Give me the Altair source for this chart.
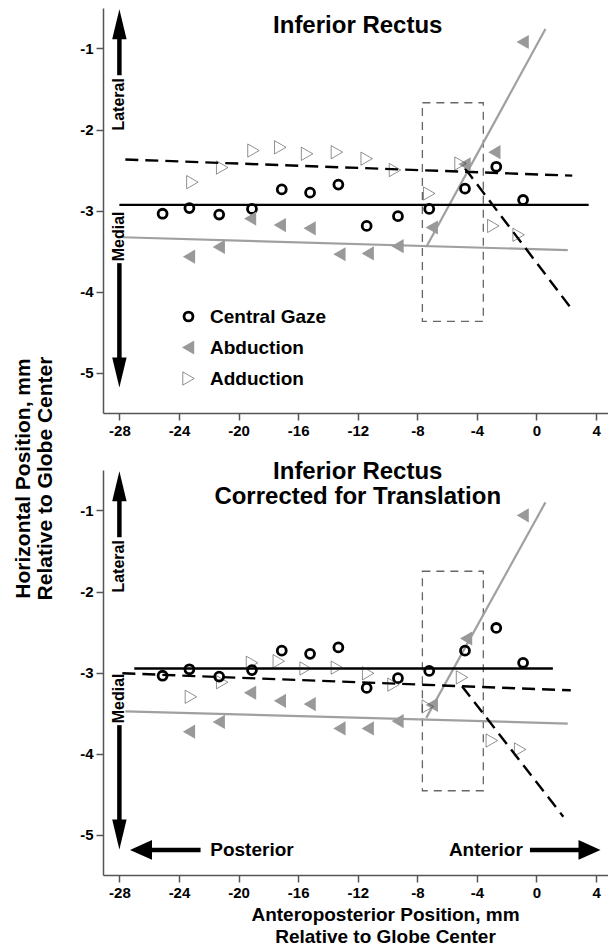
import altair as alt
import pandas as pd

FONT = "Liberation Sans"
GRAY_LINE = "#a0a0a0"
GRAY_PT = "#999999"

# ---------------- axes ----------------
x_ticks = [-28, -24, -20, -16, -12, -8, -4, 0, 4]
y_ticks = [-1, -2, -3, -4, -5]
x_domain = [-29.1, 4.8]
y_domain = [-5.5, -0.5]

series_names = ["Central Gaze", "Abduction", "Adduction"]

# ---------------- data: top panel (Inferior Rectus) ----------------
central_x = [-25.1, -23.3, -21.3, -19.1, -17.1, -15.2, -13.3, -11.4, -9.3, -7.2, -4.8, -2.7, -0.9]
central_y_top = [-3.04, -2.97, -3.05, -2.98, -2.74, -2.78, -2.68, -3.19, -3.07, -2.98, -2.73, -2.46, -2.87]

abd_x_top = [-23.3, -21.3, -19.2, -17.2, -15.2, -13.2, -11.3, -9.3, -7.0, -4.8, -2.8, -0.9]
abd_y_top = [-3.57, -3.45, -3.10, -3.18, -3.22, -3.54, -3.53, -3.44, -3.21, -2.43, -2.28, -0.92]

add_x_top = [-23.1, -21.1, -19.0, -17.2, -15.4, -13.4, -11.4, -9.5, -7.2, -5.1, -2.9, -1.2]
add_y_top = [-2.65, -2.47, -2.26, -2.22, -2.30, -2.28, -2.36, -2.50, -2.79, -2.42, -3.19, -3.30]

# regression segments [x1, y1, x2, y2]
fit_central_top = [[-28.0, -2.93, 3.5, -2.93]]
fit_abd_top = [[-27.8, -3.33, 2.1, -3.49], [-7.4, -3.45, 0.6, -0.76]]
fit_add_top = [[-27.6, -2.37, 2.4, -2.57], [-4.8, -2.48, 2.5, -4.25]]
box_top = [-7.66, -1.67, -3.57, -4.37]

# ---------------- data: bottom panel (Corrected for Translation) ----------------
central_y_bot = [-3.04, -2.96, -3.05, -2.97, -2.73, -2.77, -2.69, -3.19, -3.07, -2.98, -2.73, -2.45, -2.88]

abd_x_bot = [-23.3, -21.3, -19.2, -17.2, -15.2, -13.2, -11.3, -9.3, -7.0, -4.7, -0.9]
abd_y_bot = [-3.73, -3.61, -3.25, -3.35, -3.39, -3.69, -3.69, -3.60, -3.40, -2.58, -1.06]

add_x_bot = [-23.2, -21.1, -19.1, -17.3, -15.5, -13.4, -11.3, -9.6, -7.3, -5.0, -3.0, -1.1]
add_y_bot = [-3.30, -3.12, -2.88, -2.86, -2.95, -2.94, -3.01, -3.15, -3.42, -3.06, -3.84, -3.95]

fit_central_bot = [[-27.0, -2.95, 1.1, -2.95]]
fit_abd_bot = [[-27.6, -3.48, 2.1, -3.63], [-7.4, -3.56, 0.6, -0.90]]
fit_add_bot = [[-27.8, -3.01, 2.3, -3.22], [-5.0, -3.17, 1.8, -4.78]]
box_bot = [-7.66, -1.75, -3.57, -4.46]

# ---------------- panel titles (text, anchored in data units) ----------------
title_top = ["Inferior Rectus"]
title_top_x = [-12.0]
title_top_y = [-0.81]
title_bot = ["Inferior Rectus", "Corrected for Translation"]
title_bot_x = [-12.0, -12.0]
title_bot_y = [-0.61, -0.92]

# ---------------- annotations (data units) ----------------
side_labels = ["Lateral", "Medial"]
side_label_x = [-28.0, -28.0]
side_label_y = [-1.69, -3.32]
side_shaft_x = [-28.0, -28.0]
side_shaft_y1 = [-0.85, -3.65]
side_shaft_y2 = [-1.33, -4.84]
up_head = [-28.0, -0.70]
down_head = [-28.0, -5.00]

ap_labels = ["Posterior", "Anterior"]
ap_label_x = [-19.1, -3.4]
ap_y = -5.19
ap_shaft_x1 = [-26.0, -0.44]
ap_shaft_x2 = [-22.55, 3.0]
left_head = [-26.55, -5.19]
right_head = [3.56, -5.19]

UP = "M0,-1L0.48,1L-0.48,1Z"
DOWN = "M0,1L0.48,-1L-0.48,-1Z"
LEFT = "M-1,0L1,-0.9L1,0.9Z"
RIGHT = "M1,0L-1,-0.9L-1,0.9Z"

W, H = 505, 405


def points_frame(cx, cy, bx, by, dx, dy):
    rows = []
    for name, xs, ys in [("Central Gaze", cx, cy), ("Abduction", bx, by), ("Adduction", dx, dy)]:
        rows += [{"x": a, "y": b, "series": name} for a, b in zip(xs, ys)]
    return pd.DataFrame(rows)


def segs_frame(segs):
    return pd.DataFrame([{"x1": s[0], "y1": s[1], "x2": s[2], "y2": s[3]} for s in segs])


def panel(pts, fit_c, fit_b, fit_d, box, titles, tx, ty, top):
    xs = alt.Scale(domain=x_domain, nice=False, zero=False)
    ys = alt.Scale(domain=y_domain, nice=False, zero=False)
    if top:
        xaxis = alt.Axis(values=x_ticks, labelExpr="'' + datum.value", title=None)
        yaxis = alt.Axis(values=y_ticks, labelExpr="'' + datum.value",
                         title=["Horizontal Position, mm", "Relative to Globe Center"],
                         titleFontSize=21, titleLineHeight=22, titleX=-70, titleY=470,
                         titleAngle=270, titleAlign="center", titleBaseline="bottom")
    else:
        xaxis = alt.Axis(values=x_ticks, labelExpr="'' + datum.value",
                         title=["Anteroposterior Position, mm", "Relative to Globe Center"],
                         titleFontSize=19, titleLineHeight=22, titlePadding=5,
                         titleX=282, titleAlign="center")
        yaxis = alt.Axis(values=y_ticks, labelExpr="'' + datum.value", title=None)

    def X(f):
        return alt.X(f, type="quantitative", scale=xs, axis=xaxis)

    def Y(f):
        return alt.Y(f, type="quantitative", scale=ys, axis=yaxis)

    def rules(segs, color, width, dash=None):
        kw = dict(color=color, strokeWidth=width)
        if dash:
            kw["strokeDash"] = dash
        return alt.Chart(segs_frame(segs)).mark_rule(**kw).encode(
            x=X("x1"), y=Y("y1"), x2="x2:Q", y2="y2:Q")

    box_df = pd.DataFrame([{"x1": box[0], "y1": box[1], "x2": box[2], "y2": box[3]}])
    box_layer = alt.Chart(box_df).mark_rect(
        fillOpacity=0, stroke="#666666", strokeWidth=1.3, strokeDash=[8, 6]
    ).encode(x=X("x1"), y=Y("y1"), x2="x2:Q", y2="y2:Q")

    if top:
        leg = alt.Legend(title=None, orient="none", legendX=76, legendY=299,
                         labelFont=FONT, labelFontSize=19, labelFontWeight="bold",
                         labelColor="black", labelOffset=12, rowPadding=11)
    else:
        leg = None

    pts_layer = alt.Chart(pts).mark_point(filled=True, opacity=1).encode(
        x=X("x"), y=Y("y"),
        shape=alt.Shape("series:N", legend=leg,
                        scale=alt.Scale(domain=series_names,
                                        range=["circle", "triangle-left", "triangle-right"])),
        fill=alt.Fill("series:N", legend=leg,
                      scale=alt.Scale(domain=series_names,
                                      range=["transparent", GRAY_PT, "transparent"])),
        stroke=alt.Stroke("series:N", legend=leg,
                          scale=alt.Scale(domain=series_names,
                                          range=["black", GRAY_PT, "#222222"])),
        strokeWidth=alt.StrokeWidth("series:N", legend=leg,
                                    scale=alt.Scale(domain=series_names, range=[2.8, 0.5, 1.2])),
        size=alt.Size("series:N", legend=leg,
                      scale=alt.Scale(domain=series_names, range=[80, 175, 175])),
    )

    # panel title
    title_layer = alt.Chart(pd.DataFrame({"x": tx, "y": ty, "t": titles})).mark_text(
        font=FONT, fontWeight="bold", fontSize=24, color="black",
        align="center", baseline="alphabetic").encode(x=X("x"), y=Y("y"), text="t:N")

    # side arrows (Lateral / Medial)
    shafts = pd.DataFrame({"x": side_shaft_x, "y1": side_shaft_y1, "y2": side_shaft_y2})
    shaft_layer = alt.Chart(shafts).mark_rule(color="black", strokeWidth=4.5).encode(
        x=X("x"), y=Y("y1"), y2="y2:Q")
    up_layer = alt.Chart(pd.DataFrame([{"x": up_head[0], "y": up_head[1]}])).mark_point(
        shape=UP, size=900, filled=True, color="black", opacity=1).encode(x=X("x"), y=Y("y"))
    down_layer = alt.Chart(pd.DataFrame([{"x": down_head[0], "y": down_head[1]}])).mark_point(
        shape=DOWN, size=900, filled=True, color="black", opacity=1).encode(x=X("x"), y=Y("y"))
    side_text = alt.Chart(pd.DataFrame({"x": side_label_x, "y": side_label_y, "t": side_labels})).mark_text(
        angle=270, font=FONT, fontWeight="bold", fontSize=16, color="black",
        align="center", baseline="middle").encode(x=X("x"), y=Y("y"), text="t:N")

    layers = [box_layer,
              rules(fit_b, GRAY_LINE, 2.2),
              rules(fit_c, "black", 2.4),
              rules(fit_d, "black", 2.4, [13, 7]),
              pts_layer, title_layer,
              shaft_layer, up_layer, down_layer, side_text]

    if not top:
        ap_shafts = pd.DataFrame({"x1": ap_shaft_x1, "x2": ap_shaft_x2, "y": [ap_y, ap_y]})
        layers.append(alt.Chart(ap_shafts).mark_rule(color="black", strokeWidth=4.5).encode(
            x=X("x1"), x2="x2:Q", y=Y("y")))
        layers.append(alt.Chart(pd.DataFrame([{"x": left_head[0], "y": left_head[1]}])).mark_point(
            shape=LEFT, size=484, filled=True, color="black", opacity=1).encode(x=X("x"), y=Y("y")))
        layers.append(alt.Chart(pd.DataFrame([{"x": right_head[0], "y": right_head[1]}])).mark_point(
            shape=RIGHT, size=484, filled=True, color="black", opacity=1).encode(x=X("x"), y=Y("y")))
        layers.append(alt.Chart(pd.DataFrame({"x": ap_label_x, "y": [ap_y, ap_y], "t": ap_labels})).mark_text(
            font=FONT, fontWeight="bold", fontSize=19, color="black",
            align="center", baseline="middle").encode(x=X("x"), y=Y("y"), text="t:N"))

    return alt.layer(*layers).properties(width=W, height=H)


top = panel(points_frame(central_x, central_y_top, abd_x_top, abd_y_top, add_x_top, add_y_top),
            fit_central_top, fit_abd_top, fit_add_top, box_top,
            title_top, title_top_x, title_top_y, True)
bottom = panel(points_frame(central_x, central_y_bot, abd_x_bot, abd_y_bot, add_x_bot, add_y_bot),
               fit_central_bot, fit_abd_bot, fit_add_bot, box_bot,
               title_bot, title_bot_x, title_bot_y, False)

chart = alt.vconcat(top, bottom, spacing=57, bounds="flush").resolve_legend(
    shape="independent", fill="independent", stroke="independent",
    strokeWidth="independent", size="independent"
).properties(
    padding={"left": 4, "top": 0, "right": 0, "bottom": 0}
).configure_view(stroke=None).configure_axis(
    domainColor="#555555", tickColor="#555555", domainWidth=1.5, tickWidth=1.5,
    tickSize=7, grid=False, labelFont=FONT, labelFontSize=15, labelFontWeight="bold",
    labelColor="black", labelPadding=3, titleFont=FONT, titleFontWeight="bold",
    titleColor="black"
)

chart.save("out.html", embed_options={"renderer": "svg", "actions": False})
